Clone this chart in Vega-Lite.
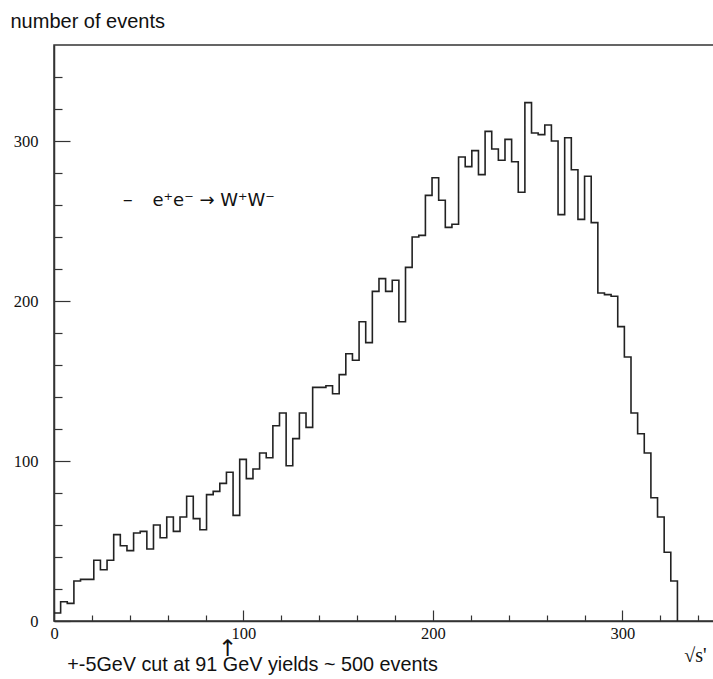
{
  "$schema": "https://vega.github.io/schema/vega-lite/v6.json",
  "width": 660,
  "height": 576,
  "autosize": {"type": "none"},
  "padding": {"left": 54, "top": 45, "right": 0, "bottom": 58},
  "background": "white",
  "view": {"stroke": "#333", "strokeWidth": 1.5},
  "config": {"font": "Liberation Sans"},
  "resolve": {"axis": {"x": "independent", "y": "independent"}},
  "layer": [
    {
      "data": {"values": [
        {"sqrt_s": 0, "events": 5}, {"sqrt_s": 3.5, "events": 12}, {"sqrt_s": 7, "events": 11}, {"sqrt_s": 10.5, "events": 25},
        {"sqrt_s": 14, "events": 26}, {"sqrt_s": 17.5, "events": 26}, {"sqrt_s": 21, "events": 38}, {"sqrt_s": 24.5, "events": 32},
        {"sqrt_s": 28, "events": 38}, {"sqrt_s": 31.5, "events": 54}, {"sqrt_s": 35, "events": 47}, {"sqrt_s": 38.5, "events": 44},
        {"sqrt_s": 42, "events": 55}, {"sqrt_s": 45.5, "events": 56}, {"sqrt_s": 49, "events": 45}, {"sqrt_s": 52.5, "events": 60},
        {"sqrt_s": 56, "events": 52}, {"sqrt_s": 59.5, "events": 65}, {"sqrt_s": 63, "events": 56}, {"sqrt_s": 66.5, "events": 65},
        {"sqrt_s": 70, "events": 78}, {"sqrt_s": 73.5, "events": 64}, {"sqrt_s": 77, "events": 57}, {"sqrt_s": 80.5, "events": 79},
        {"sqrt_s": 84, "events": 81}, {"sqrt_s": 87.5, "events": 86}, {"sqrt_s": 91, "events": 93}, {"sqrt_s": 94.5, "events": 66},
        {"sqrt_s": 98, "events": 101}, {"sqrt_s": 101.5, "events": 89}, {"sqrt_s": 105, "events": 95}, {"sqrt_s": 108.5, "events": 105},
        {"sqrt_s": 112, "events": 102}, {"sqrt_s": 115.5, "events": 122}, {"sqrt_s": 119, "events": 130}, {"sqrt_s": 122.5, "events": 97},
        {"sqrt_s": 126, "events": 114}, {"sqrt_s": 129.5, "events": 130}, {"sqrt_s": 133, "events": 121}, {"sqrt_s": 136.5, "events": 146},
        {"sqrt_s": 140, "events": 146}, {"sqrt_s": 143.5, "events": 147}, {"sqrt_s": 147, "events": 142}, {"sqrt_s": 150.5, "events": 154},
        {"sqrt_s": 154, "events": 167}, {"sqrt_s": 157.5, "events": 163}, {"sqrt_s": 161, "events": 187}, {"sqrt_s": 164.5, "events": 174},
        {"sqrt_s": 168, "events": 206}, {"sqrt_s": 171.5, "events": 214}, {"sqrt_s": 175, "events": 206}, {"sqrt_s": 178.5, "events": 213},
        {"sqrt_s": 182, "events": 187}, {"sqrt_s": 185.5, "events": 221}, {"sqrt_s": 189, "events": 240}, {"sqrt_s": 192.5, "events": 241},
        {"sqrt_s": 196, "events": 266}, {"sqrt_s": 199.5, "events": 277}, {"sqrt_s": 203, "events": 263}, {"sqrt_s": 206.5, "events": 246},
        {"sqrt_s": 210, "events": 248}, {"sqrt_s": 213.5, "events": 290}, {"sqrt_s": 217, "events": 284}, {"sqrt_s": 220.5, "events": 294},
        {"sqrt_s": 224, "events": 279}, {"sqrt_s": 227.5, "events": 306}, {"sqrt_s": 231, "events": 295}, {"sqrt_s": 234.5, "events": 288},
        {"sqrt_s": 238, "events": 301}, {"sqrt_s": 241.5, "events": 287}, {"sqrt_s": 245, "events": 268}, {"sqrt_s": 248.5, "events": 324},
        {"sqrt_s": 252, "events": 305}, {"sqrt_s": 255.5, "events": 304}, {"sqrt_s": 259, "events": 310}, {"sqrt_s": 262.5, "events": 300},
        {"sqrt_s": 266, "events": 254}, {"sqrt_s": 269.5, "events": 302}, {"sqrt_s": 273, "events": 282}, {"sqrt_s": 276.5, "events": 251},
        {"sqrt_s": 280, "events": 278}, {"sqrt_s": 283.5, "events": 249}, {"sqrt_s": 287, "events": 205}, {"sqrt_s": 290.5, "events": 204},
        {"sqrt_s": 294, "events": 203}, {"sqrt_s": 297.5, "events": 184}, {"sqrt_s": 301, "events": 165}, {"sqrt_s": 304.5, "events": 130},
        {"sqrt_s": 308, "events": 117}, {"sqrt_s": 311.5, "events": 105}, {"sqrt_s": 315, "events": 77}, {"sqrt_s": 318.5, "events": 65},
        {"sqrt_s": 322, "events": 43}, {"sqrt_s": 325.5, "events": 25}, {"sqrt_s": 329, "events": 0}
      ]},
      "mark": {"type": "line", "interpolate": "step-after", "color": "#222", "strokeWidth": 1.6},
      "encoding": {
        "x": {
          "field": "sqrt_s", "type": "quantitative",
          "scale": {"domain": [0, 348.3], "nice": false, "zero": false},
          "axis": {
            "values": [0, 20, 40, 60, 80, 100, 120, 140, 160, 180, 200, 220, 240, 260, 280, 300, 320, 340],
            "labelExpr": "datum.value % 100 === 0 ? datum.label : ''",
            "format": "d",
            "grid": false,
            "domainColor": "#333", "domainWidth": 1.5,
            "tickColor": "#333", "tickWidth": 1.2,
            "tickSize": {"condition": {"test": "datum.value % 100 === 0", "value": -11}, "value": -6},
            "labelFont": "Liberation Serif", "labelFontSize": 16.5, "labelColor": "#111",
            "labelPadding": 15, "labelFlush": false, "labelOverlap": false, "labelBaseline": "top",
            "title": "√s'", "titleFont": "Liberation Serif", "titleFontSize": 20, "titleFontWeight": "normal", "titleColor": "#111",
            "titleX": 641, "titleY": 40, "titleAlign": "center", "titleBaseline": "alphabetic"
          }
        },
        "y": {
          "field": "events", "type": "quantitative",
          "scale": {"domain": [0, 360], "nice": false},
          "axis": {
            "values": [0, 20, 40, 60, 80, 100, 120, 140, 160, 180, 200, 220, 240, 260, 280, 300, 320, 340],
            "labelExpr": "datum.value % 100 === 0 ? datum.label : ''",
            "format": "d",
            "grid": false,
            "domainColor": "#333", "domainWidth": 1.5,
            "tickColor": "#333", "tickWidth": 1.2,
            "tickSize": {"condition": {"test": "datum.value % 100 === 0", "value": -16}, "value": -8},
            "labelFont": "Liberation Serif", "labelFontSize": 16.5, "labelColor": "#111",
            "labelPadding": 32, "labelFlush": false, "labelOverlap": false,
            "title": "number of events", "titleFont": "Liberation Sans", "titleFontSize": 20, "titleFontWeight": "normal", "titleColor": "#111",
            "titleAngle": 0, "titleX": -44, "titleY": -18, "titleAlign": "left", "titleBaseline": "alphabetic"
          }
        }
      }
    },
    {
      "data": {"values": [{"label": "legend dash"}]},
      "mark": {"type": "text", "text": "–", "align": "left", "baseline": "alphabetic", "fontSize": 20, "font": "DejaVu Sans", "color": "#111"},
      "encoding": {
        "x": {"datum": 36.3, "type": "quantitative", "axis": null},
        "y": {"datum": 259.4, "type": "quantitative", "axis": null}
      }
    },
    {
      "data": {"values": [{"label": "legend"}]},
      "mark": {"type": "text", "text": "e⁺e⁻ → W⁺W⁻", "align": "left", "baseline": "alphabetic", "fontSize": 18, "font": "DejaVu Sans", "color": "#111"},
      "encoding": {
        "x": {"datum": 52, "type": "quantitative", "axis": null},
        "y": {"datum": 259.4, "type": "quantitative", "axis": null}
      }
    },
    {
      "data": {"values": [{"label": "note"}]},
      "mark": {"type": "text", "text": "+-5GeV cut at 91 GeV yields ~ 500 events", "align": "left", "baseline": "alphabetic", "fontSize": 19.8, "font": "Liberation Sans", "color": "#111"},
      "encoding": {
        "x": {"datum": 7, "type": "quantitative", "axis": null},
        "y": {"datum": -31, "type": "quantitative", "axis": null}
      }
    },
    {
      "data": {"values": [{"label": "arrow"}]},
      "mark": {"type": "text", "text": "↑", "align": "center", "baseline": "middle", "fontSize": 23, "font": "DejaVu Sans", "color": "#111"},
      "encoding": {
        "x": {"datum": 91.5, "type": "quantitative", "axis": null},
        "y": {"datum": -17.8, "type": "quantitative", "axis": null}
      }
    }
  ]
}
